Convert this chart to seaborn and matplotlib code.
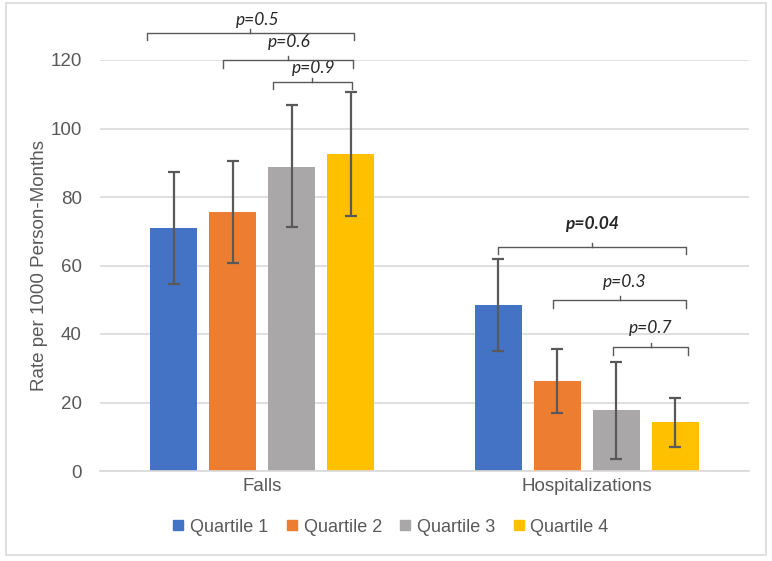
import matplotlib
matplotlib.use("Agg")
import matplotlib.pyplot as plt
from matplotlib.lines import Line2D
from matplotlib.patches import Rectangle
from matplotlib.container import BarContainer
import seaborn as sns
import pandas as pd
import numpy as np

# ---- data ----
outcomes = ["Falls", "Hospitalizations"]
quartiles = ["Quartile 1", "Quartile 2", "Quartile 3", "Quartile 4"]
falls_rate = [70.9, 75.6, 88.9, 92.5]
falls_lo = [54.6, 60.8, 71.1, 74.5]
falls_hi = [87.2, 90.5, 106.8, 110.8]
hosp_rate = [48.5, 26.3, 17.8, 14.3]
hosp_lo = [35.1, 17.0, 3.6, 7.1]
hosp_hi = [61.9, 35.6, 31.9, 21.3]
colors = ["#4472C4", "#ED7D31", "#A9A7A7", "#FFC000"]

# p-value brackets
brackets_group = [0, 0, 0, 1, 1, 1]
brackets_from = [0, 1, 2, 0, 1, 2]
brackets_to = [3, 3, 3, 3, 3, 3]
brackets_level = [127.9, 120.0, 113.6, 65.5, 49.9, 36.2]
brackets_label = ["p=0.5", "p=0.6", "p=0.9", "p=0.04", "p=0.3", "p=0.7"]
brackets_bold = [False, False, False, True, False, False]
# small offsets of bracket ends and labels (pixels)
brackets_dx0 = [-27, -10, -19, 0, -4, -3]
brackets_dx1 = [3, 2, 1, 11, 11, 13]
label_dx = [7, 1, 1, 0, 5, 0]
label_dy = [13, 18, 14, 23, 18, 19]

df = pd.DataFrame({
    "outcome": np.repeat(outcomes, 4),
    "quartile": quartiles * 2,
    "rate": falls_rate + hosp_rate,
})

W, H = 772, 561
fig = plt.figure(figsize=(W / 100, H / 100), dpi=100)
ax = fig.add_axes([100 / W, 1 - 471 / H, (749 - 100) / W, (471 - 60) / H])

sns.barplot(data=df, x="outcome", y="rate", hue="quartile", hue_order=quartiles,
            palette=colors, width=0.727, gap=0.2, errorbar=None, ax=ax,
            saturation=1, legend=False, zorder=2)

gray = "#595959"
bar_conts = [c for c in ax.containers if isinstance(c, BarContainer)]
centers = []
for ci, cont in enumerate(bar_conts):
    xs = [p.get_x() + p.get_width() / 2 for p in cont.patches]
    centers.append(xs)
    vals = [falls_rate[ci], hosp_rate[ci]]
    los = [falls_lo[ci], hosp_lo[ci]]
    his = [falls_hi[ci], hosp_hi[ci]]
    yerr = [[v - l for v, l in zip(vals, los)], [h - v for v, h in zip(vals, his)]]
    ax.errorbar(xs, vals, yerr=yerr, fmt="none", ecolor=gray, elinewidth=1.6,
                capsize=4, capthick=1.6, zorder=3)

ax.set_ylim(0, 120)
ax.set_xlim(-0.5, 1.5)
ax.set_yticks([0, 20, 40, 60, 80, 100, 120])
ax.grid(axis="y", color="#D9D9D9", linewidth=1.2, zorder=0)
ax.set_axisbelow(True)
for s in ["top", "right", "left"]:
    ax.spines[s].set_visible(False)
ax.spines["bottom"].set_color("#D9D9D9")
ax.spines["bottom"].set_linewidth(1.2)
ax.tick_params(axis="both", length=0, labelsize=13.5, labelcolor=gray)
ax.tick_params(axis="y", pad=13)
ax.tick_params(axis="x", pad=5)
for t in ax.get_xticklabels() + ax.get_yticklabels():
    t.set_fontfamily("Liberation Sans")
ax.set_xlabel("")
ax.set_ylabel("Rate per 1000 Person-Months", fontsize=13.5, color=gray,
              fontfamily="Liberation Sans", labelpad=2)

# brackets
px = 2.0 / (749 - 100)  # data units per pixel in x
for i in range(len(brackets_label)):
    g = brackets_group[i]
    lev = brackets_level[i]
    x0 = centers[brackets_from[i]][g] + brackets_dx0[i] * px
    x1 = centers[brackets_to[i]][g] + brackets_dx1[i] * px
    xm = (x0 + x1) / 2
    d = 2.2
    ax.plot([x0, x0, x1, x1], [lev - d, lev, lev, lev - d], color=gray, lw=1.0,
            clip_on=False, zorder=4)
    ax.plot([xm, xm], [lev, lev + 1.2], color=gray, lw=1.0, clip_on=False, zorder=4)
    ax.annotate(brackets_label[i], (xm, lev),
                xytext=(label_dx[i] * 0.72, label_dy[i] * 0.72), textcoords="offset points",
                ha="center", va="center", fontsize=12.5, style="italic",
                fontweight="bold" if brackets_bold[i] else "normal", color="#262626",
                fontfamily=["Lato", "DejaVu Sans"], annotation_clip=False)

handles = [Line2D([], [], marker="s", linestyle="none", markersize=7.5,
                  markerfacecolor=c, markeredgecolor=c) for c in colors]
leg = fig.legend(handles, quartiles, loc="center", bbox_to_anchor=(389 / W, 1 - 527 / H),
                 ncol=4, frameon=False, handletextpad=0.15, columnspacing=0.8,
                 handlelength=1.0, prop={"family": "Liberation Sans", "size": 13})
for t in leg.get_texts():
    t.set_color(gray)

fig.patches.append(Rectangle((6 / W, 1 - 555 / H), 760 / W, 552 / H,
                             transform=fig.transFigure, fill=False,
                             edgecolor="#D9D9D9", linewidth=1.2))

fig.savefig("out.png", dpi=100, facecolor="white")
